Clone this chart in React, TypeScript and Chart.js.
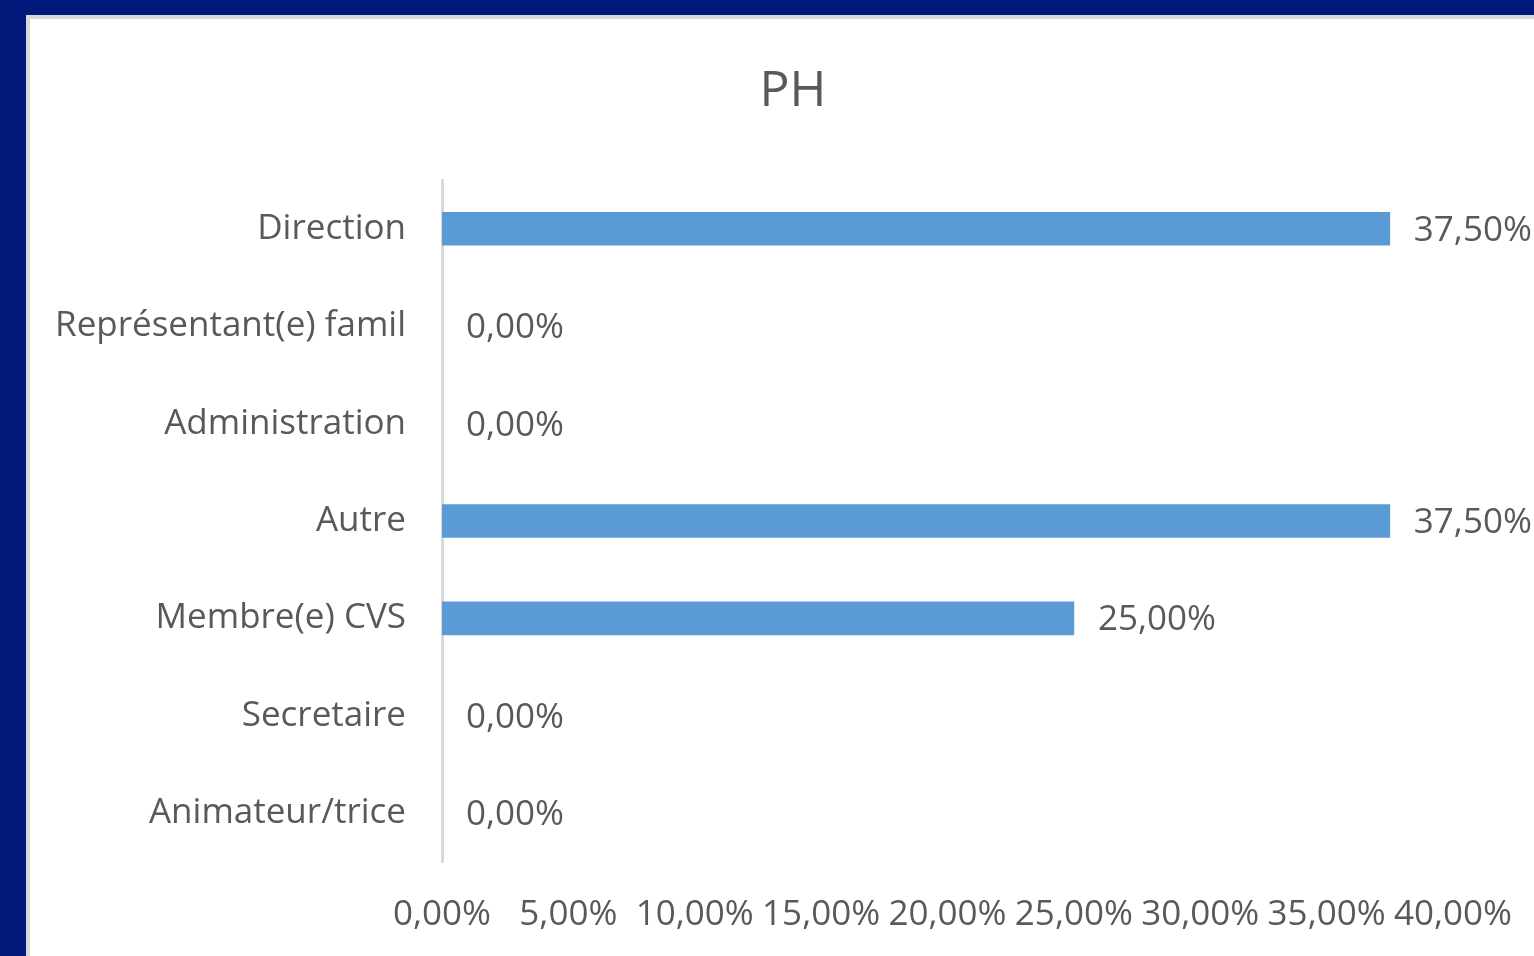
import React, { useEffect, useRef } from "react";
import { Chart, registerables } from "chart.js";

Chart.register(...registerables);

const chartTitle = "PH";
const categories = [
  "Direction",
  "Représentant(e) famil",
  "Administration",
  "Autre",
  "Membre(e) CVS",
  "Secretaire",
  "Animateur/trice",
];
const values = [37.5, 0, 0, 37.5, 25, 0, 0];
const xMin = 0;
const xMax = 40;
const xStep = 5;

const FONT = "'Open Sans', 'Noto Sans', sans-serif";
const TEXT = "#595959";
const BAR = "#5B9BD5";

const fmt = (v: number) => v.toFixed(2).replace(".", ",") + "%";

const labelsPlugin = {
  id: "valueLabels",
  afterDatasetsDraw(chart: any) {
    const ctx = chart.ctx;
    const meta = chart.getDatasetMeta(0);
    ctx.save();
    ctx.font = `35px ${FONT}`;
    ctx.fillStyle = TEXT;
    ctx.textAlign = "left";
    ctx.textBaseline = "middle";
    meta.data.forEach((el: any, i: number) => {
      ctx.fillText(fmt(values[i]), el.x + 24, el.y + 2);
    });
    ctx.restore();
  },
};

const titlePlugin = {
  id: "titleText",
  afterDraw(chart: any) {
    const ctx = chart.ctx;
    ctx.save();
    ctx.font = `50px ${FONT}`;
    ctx.fillStyle = TEXT;
    ctx.textAlign = "center";
    ctx.textBaseline = "middle";
    ctx.fillText(chartTitle, 793, 92);
    ctx.restore();
  },
};

export default function App() {
  const ref = useRef<HTMLCanvasElement | null>(null);

  useEffect(() => {
    if (!ref.current) return;
    const chart = new Chart(ref.current, {
      type: "bar",
      data: {
        labels: categories,
        datasets: [
          {
            data: values,
            backgroundColor: values.map((v) => (v === 0 ? "rgba(0,0,0,0)" : BAR)),
            borderWidth: 0,
            barThickness: 33,
          },
        ],
      },
      options: {
        indexAxis: "y",
        animation: false,
        responsive: false,
        maintainAspectRatio: false,
        layout: { padding: { top: 180, right: 81, bottom: 0, left: 0 } },
        plugins: {
          legend: { display: false },
          tooltip: { enabled: false },
          title: { display: false },
        },
        scales: {
          x: {
            min: xMin,
            max: xMax,
            grid: { display: false, drawTicks: false },
            border: { display: false },
            ticks: {
              stepSize: xStep,
              color: TEXT,
              font: { family: FONT, size: 35 },
              padding: 32,
              maxRotation: 0,
              autoSkip: false,
              callback: (v: any) => fmt(Number(v)),
            },
            afterFit: (s: any) => {
              s.height = 94;
              s.paddingLeft = 0;
              s.paddingRight = 0;
            },
          },
          y: {
            grid: { display: false, drawTicks: false },
            border: { display: true, color: "#D9D9D9", width: 3 },
            ticks: {
              color: TEXT,
              font: { family: FONT, size: 35 },
              padding: 36,
              autoSkip: false,
            },
            afterFit: (s: any) => {
              s.width = 442;
              s.paddingTop = 0;
              s.paddingBottom = 0;
            },
          },
        },
      },
      plugins: [labelsPlugin, titlePlugin],
    });
    return () => chart.destroy();
  }, []);

  return (
    <div
      style={{
        position: "fixed",
        left: 0,
        top: 0,
        width: 1534,
        height: 956,
        background: "#00197A",
        overflow: "hidden",
      }}
    >
      <div
        style={{
          position: "absolute",
          left: 26,
          top: 15,
          right: -10,
          bottom: -10,
          background: "#FFFFFF",
          borderLeft: "4px solid #D9D9D9",
          borderTop: "4px solid #D9D9D9",
        }}
      />
      <canvas
        ref={ref}
        width={1534}
        height={956}
        style={{ position: "absolute", left: 0, top: 0, width: 1534, height: 956 }}
      />
    </div>
  );
}
